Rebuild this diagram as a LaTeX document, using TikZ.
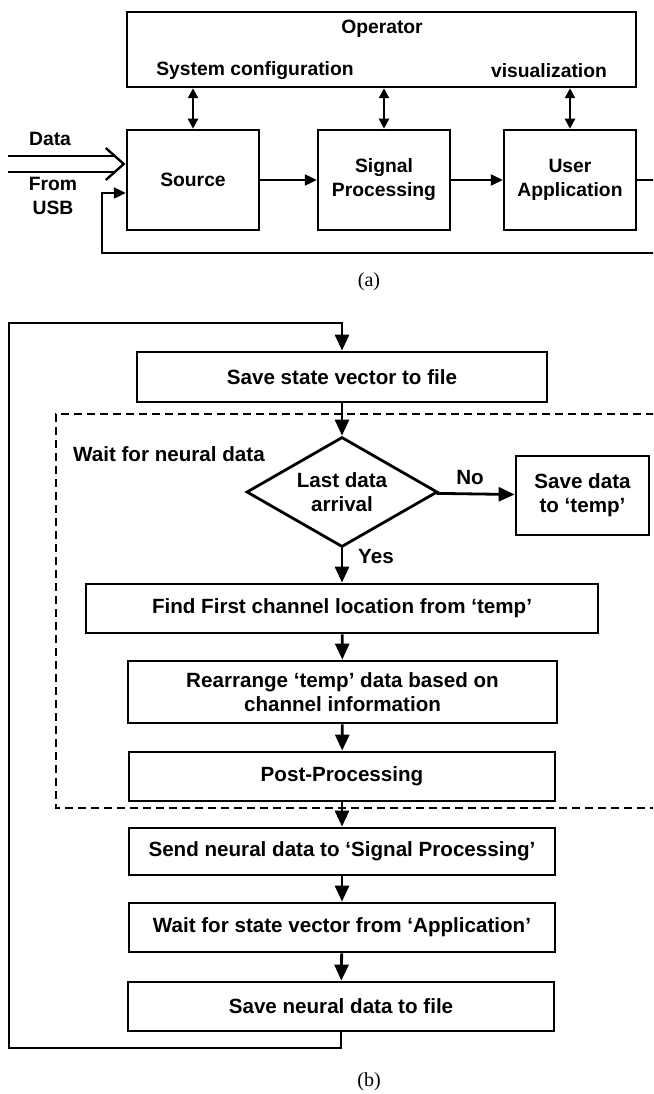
\documentclass[tikz,border=0pt]{standalone}
\usepackage{fontspec}
\setsansfont{Liberation Sans}
\newfontfamily\timesf{Liberation Serif}
\usetikzlibrary{arrows.meta,shapes.geometric,calc}
\newcommand\bigtxt{\sffamily\bfseries\fontsize{20.6}{24}\selectfont}
\newcommand\smtxt{\sffamily\bfseries\fontsize{19.3}{24}\selectfont}
\tikzset{
  box/.style={draw, line width=2.8pt, inner sep=0pt, align=center, font=\bigtxt},
  tbox/.style={draw, line width=2.5pt, inner sep=0pt, align=center, font=\smtxt},
  lbl/.style={inner sep=0pt, align=center, font=\smtxt},
  blbl/.style={inner sep=0pt, align=center, font=\bigtxt},
  figcap/.style={inner sep=0pt, font=\timesf\fontsize{20}{24}\selectfont},
  arr/.style={line width=2.8pt, -{Triangle[length=16pt,width=14pt]}},
  sarr/.style={line width=2.4pt, -{Triangle[length=12pt,width=11pt]}},
  dsarr/.style={line width=2.4pt, {Triangle[length=10pt,width=10pt]}-{Triangle[length=10pt,width=10pt]}},
  plain/.style={line width=2.4pt},
  dashbox/.style={line width=2.8pt, dash pattern=on 8pt off 5pt},
}
\begin{document}
\begin{tikzpicture}[x=1pt,y=-1pt]
\useasboundingbox (0,0) rectangle (653,1094);
\clip (0,0) rectangle (653,1094);
% ---------- (a) ----------
\node[tbox, minimum width=509pt, minimum height=75pt] (op) at (381.5,49.5) {};
\node[lbl] (opt) at (382,29) {Operator};
\node[lbl] (syscfg) at (255,71) {System configuration};
\node[lbl] (vis) at (549,71) {visualization};
\node[tbox, minimum width=132pt, minimum height=100pt] (src) at (193,180) {Source};
\node[tbox, minimum width=132pt, minimum height=100pt] (sp) at (384,180) {Signal\\Processing};
\node[tbox, minimum width=132pt, minimum height=100pt] (ua) at (570,180) {User\\Application};
\draw[dsarr] (src.north |- op.south) -- (src.north);
\draw[dsarr] (sp.north |- op.south) -- (sp.north);
\draw[dsarr] (ua.north |- op.south) -- (ua.north);
\draw[sarr] (src.east) -- (sp.west);
\draw[sarr] (sp.east) -- (ua.west);
\coordinate (fbA) at (680,253);
\coordinate (fbB) at (102,253);
\draw[sarr] (ua.east) -| (fbA) -- (fbB) |- ([yshift=-13pt]src.west);
% data from USB
\node[lbl] (datal) at (50,139) {Data};
\node[lbl] (froml) at (53,196) {From\\USB};
\coordinate (tip) at ([xshift=-2pt,yshift=16pt]src.west);
\coordinate (dT1) at (8,156);
\coordinate (dT2) at (8,172);
\draw[plain] (dT1) -- ($(tip)+(-9,-8)$);
\draw[plain] (dT2) -- ($(tip)+(-9,8)$);
\draw[plain] ($(tip)+(-18,-16)$) -- (tip) -- ($(tip)+(-18,16)$);
\node[figcap] (capa) at (369,282) {(a)};
% ---------- (b) ----------
\coordinate (dR1) at (680,414);
\coordinate (dTL) at (56,414);
\coordinate (dBL) at (56,808);
\coordinate (dR2) at (680,808);
\draw[dashbox] (dR1) -- (dTL) -- (dBL) -- (dR2);
\node[box, minimum width=410pt, minimum height=50pt] (ss) at (342,377) {Save state vector to file};
\node[blbl, anchor=west] (wait) at (73,454) {Wait for neural data};
\node[draw, diamond, line width=2.8pt, inner sep=0pt, aspect=1.74, minimum width=191pt, minimum height=110pt, align=center, font=\bigtxt] (dec) at (342,492) {Last data\\arrival};
\node[box, minimum width=133pt, minimum height=79pt] (sd) at (582.5,495.5) {Save data\\to `temp'};
\node[blbl] (nol) at (470,478) {No};
\node[blbl, anchor=west] (yesl) at (358,557) {Yes};
\node[box, minimum width=512pt, minimum height=49pt] (find) at (342,608.5) {Find First channel location from `temp'};
\node[box, minimum width=429pt, minimum height=62pt] (rear) at (342.5,692) {Rearrange `temp' data based on\\channel information};
\node[box, minimum width=426pt, minimum height=49pt] (post) at (342,776.5) {Post-Processing};
\node[box, minimum width=426pt, minimum height=47pt] (send) at (342,851.5) {Send neural data to `Signal Processing'};
\node[box, minimum width=426pt, minimum height=49pt] (wsv) at (342,927.5) {Wait for state vector from `Application'};
\node[box, minimum width=426pt, minimum height=49pt] (sn) at (341,1006.5) {Save neural data to file};
\draw[arr] (ss) -- (dec);
\draw[arr] (dec) -- (sd);
\draw[arr] (dec) -- (find);
\draw[arr] (find) -- (rear);
\draw[arr] (rear) -- (post);
\draw[arr] (post) -- (send);
\draw[arr] (send) -- (wsv);
\draw[arr] (wsv) -- (sn);
\coordinate (lpA) at (9,1048);
\coordinate (lpB) at (9,323);
\draw[arr] (sn.south) |- (lpA) -- (lpB) -| (ss.north);
\node[figcap] (capb) at (369,1082) {(b)};
\end{tikzpicture}
\end{document}
